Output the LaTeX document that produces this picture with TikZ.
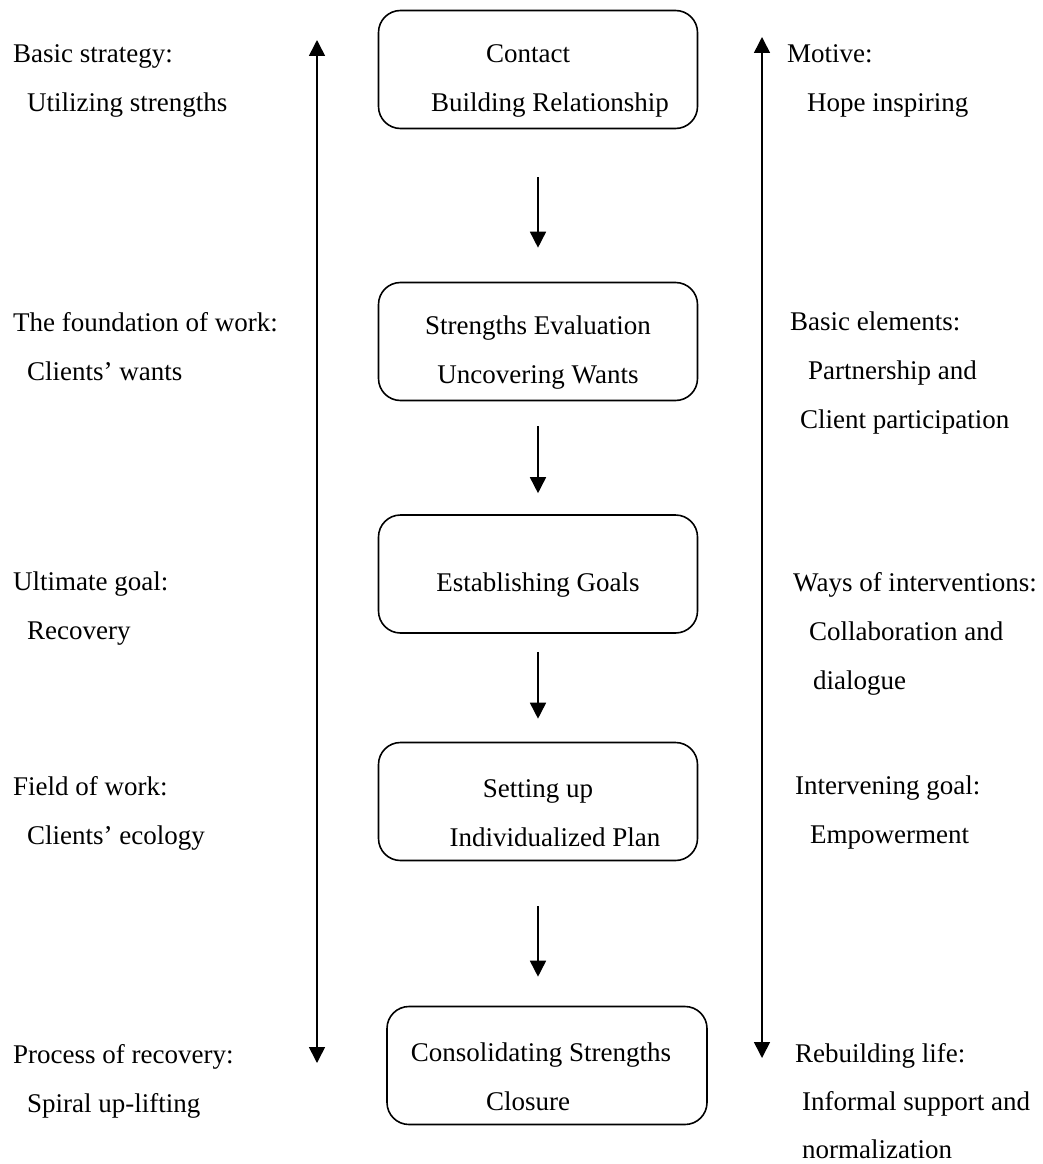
\documentclass[tikz,border=0pt]{standalone}
\usepackage{fontspec}
\setmainfont{Liberation Serif}
\usetikzlibrary{arrows.meta,positioning}
\newcommand{\stagestrut}{\rule{0pt}{41pt}}
\tikzstyle{stage} = [rectangle, rounded corners=22pt, draw, line width=1.6pt, minimum width=319pt, minimum height=118pt, align=center, inner sep=0pt]
\tikzstyle{note} = [anchor=north west, align=left, inner sep=0pt]
\tikzstyle{arrow} = [line width=1.6pt, -{Triangle[length=16pt,width=16pt]}]
\tikzstyle{span} = [line width=1.6pt, {Triangle[length=16pt,width=16pt]}-{Triangle[length=16pt,width=16pt]}]

\begin{document}
\begin{tikzpicture}[x=1pt, y=-1pt, font=\fontsize{27}{49}\selectfont]
\useasboundingbox (0,0) rectangle (1043,1164);
% stages of the process
\node (contact) [stage] at (538,69.5) {\stagestrut Contact\hspace*{20pt}\\\hspace*{24pt}Building Relationship};
\node (evaluation) [stage] at (538,341.5) {\stagestrut Strengths Evaluation\\Uncovering Wants};
\node (goals) [stage] at (538,574) {\stagestrut Establishing Goals};
\node (plan) [stage] at (538,801.5) {\stagestrut Setting up\\\hspace*{34pt}Individualized Plan};
\node (closure) [stage, minimum width=320pt] at (547,1065.5) {\stagestrut Consolidating Strengths\hspace*{12pt}\\Closure\hspace*{38pt}};
\draw [arrow, shorten <=48pt, shorten >=34pt] (contact) -- (evaluation);
\draw [arrow, shorten <=25pt, shorten >=21pt] (evaluation) -- (goals);
\draw [arrow, shorten <=18pt, shorten >=23pt] (goals) -- (plan);
\draw [arrow, shorten <=45pt, shorten >=29pt] (plan.south) -- (plan.south |- closure.north);
% side arrows
\coordinate (ltop) at (317,40);
\coordinate (lbot) at (317,1063);
\coordinate (rtop) at (762,37);
\coordinate (rbot) at (762,1058);
\draw [span] (ltop) -- (lbot);
\draw [span] (rtop) -- (rbot);
% left notes
\node (strategy) [note] at (13,44) {Basic strategy:\\\hspace*{14pt}Utilizing strengths};
\node (foundation) [note] at (13,312) {The foundation of work:\\\hspace*{14pt}Clients' wants};
\node (ultimate) [note] at (13,572) {Ultimate goal:\\\hspace*{14pt}Recovery};
\node (field) [note] at (13,776) {Field of work:\\\hspace*{14pt}Clients' ecology};
\node (recovery) [note] at (13,1044) {Process of recovery:\\\hspace*{14pt}Spiral up-lifting};
% right notes
\node (motive) [note] at (787,44) {Motive:\\\hspace*{20pt}Hope inspiring};
\node (elements) [note] at (790,312) {Basic elements:\\\hspace*{18pt}Partnership and\\\hspace*{10pt}Client participation};
\node (ways) [note] at (793,572) {Ways of interventions:\\\hspace*{16pt}Collaboration and\\\hspace*{20pt}dialogue};
\node (intervening) [note] at (795,776) {Intervening goal:\\\hspace*{15pt}Empowerment};
\node (rebuilding) [note, font=\fontsize{27}{48}\selectfont] at (795,1043) {Rebuilding life:\\\hspace*{7pt}Informal support and\\\hspace*{7pt}normalization};
\end{tikzpicture}
\end{document}
